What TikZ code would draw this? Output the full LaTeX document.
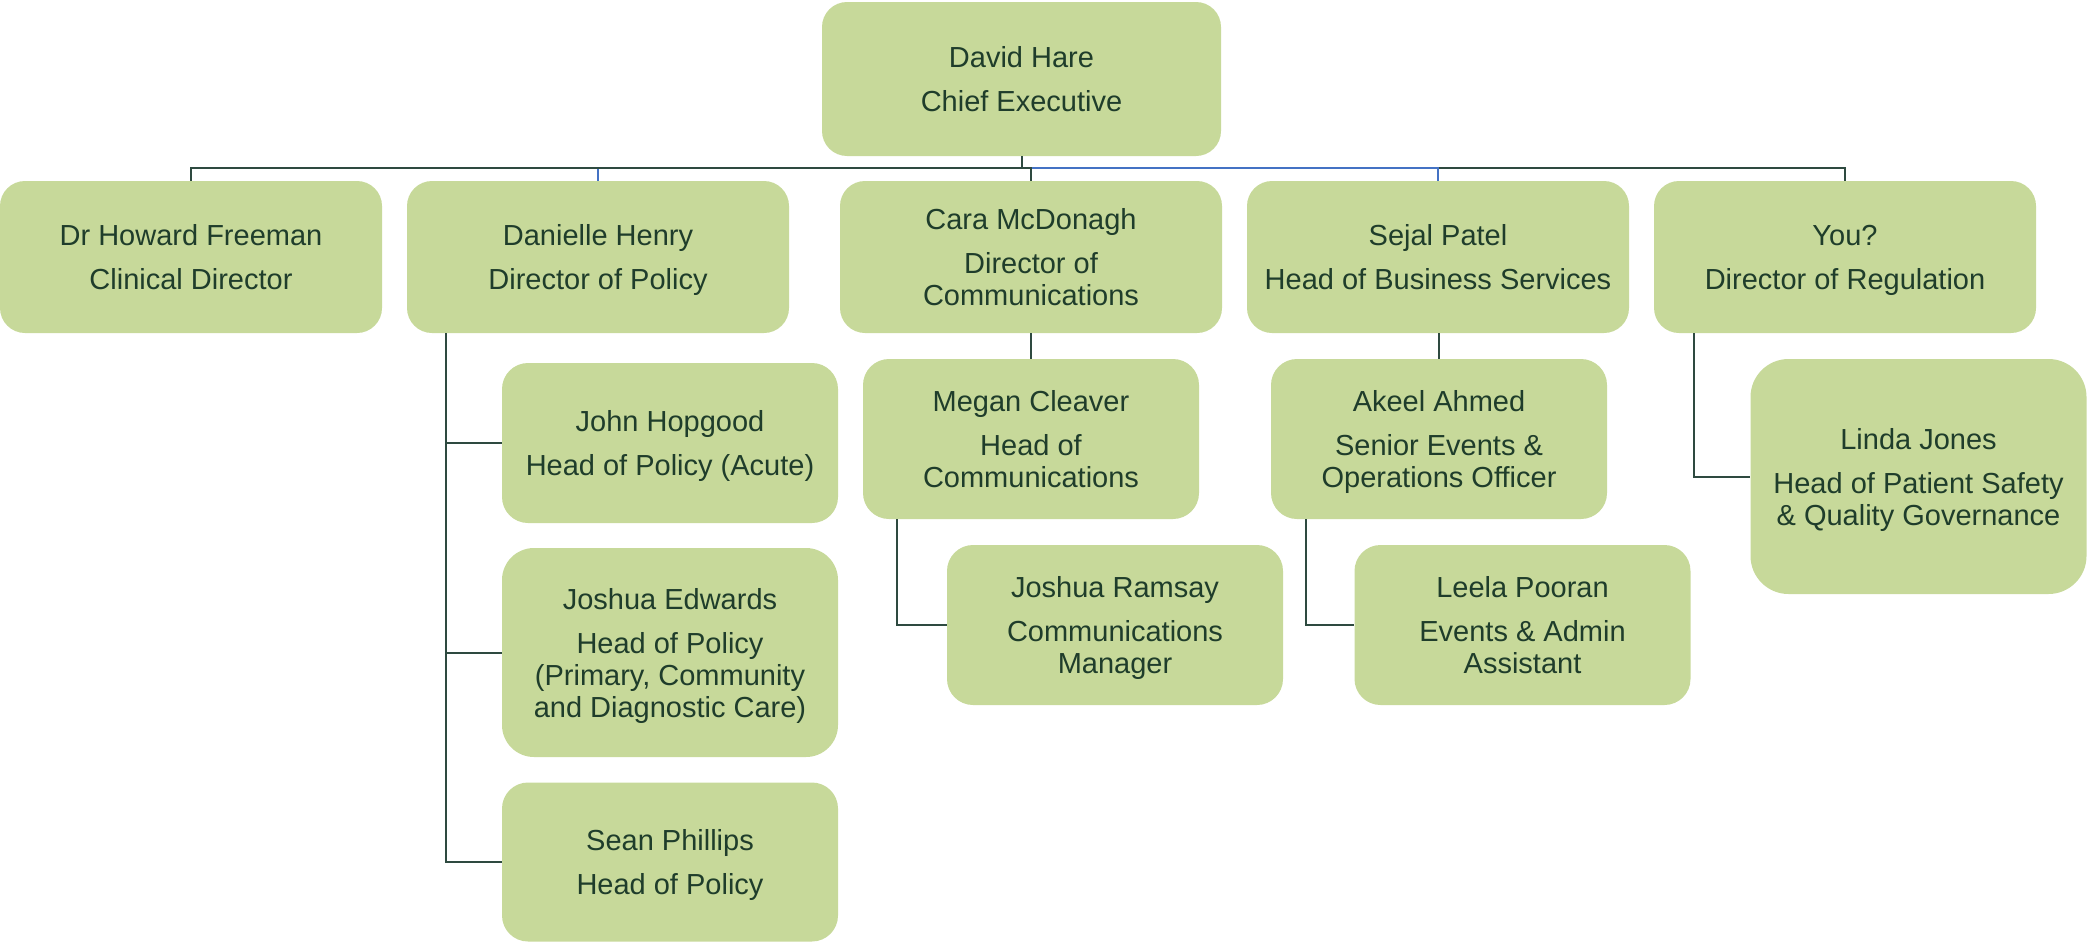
\documentclass[tikz,border=0pt]{standalone}
\usepackage{fontspec}
\setmainfont{Liberation Sans}
\usetikzlibrary{calc}
\definecolor{boxfill}{HTML}{C7D99A}
\definecolor{txt}{HTML}{1F3D2B}
\definecolor{lndark}{HTML}{2E4A40}
\definecolor{lnblue}{HTML}{4472C4}
\begin{document}
\begin{tikzpicture}[x=0.5pt,y=-0.5pt,
  box/.style={fill=boxfill, text=txt, draw=none, align=center, inner sep=0pt, text depth=0pt, font=\fontsize{14.5pt}{16pt}\selectfont},
  lone/.style={box, minimum width=191pt, minimum height=76pt, rounded corners=12.5pt},
  ltwo/.style={box, minimum width=168pt, minimum height=80pt, rounded corners=13pt},
  conn/.style={draw=lndark, line width=1pt},
  connb/.style={draw=lnblue, line width=1pt}]
\useasboundingbox (0,0) rectangle (2087,942);

\node[box, minimum width=199.5pt, minimum height=77pt, rounded corners=12.5pt] (ceo) at (1021.5,79) {David Hare\\[6pt]Chief Executive};

\node[lone] (howard) at (191,257) {Dr Howard Freeman\\[6pt]Clinical Director};
\node[lone] (danielle) at (598,257) {Danielle Henry\\[6pt]Director of Policy};
\node[lone] (cara) at (1031,257) {Cara McDonagh\\[6pt]Director of\\Communications};
\node[lone] (sejal) at (1438,257) {Sejal Patel\\[6pt]Head of Business Services};
\node[lone] (you) at (1845,257) {You?\\[6pt]Director of Regulation};

\node[ltwo] (john) at (670,443) {John Hopgood\\[6pt]Head of Policy (Acute)};
\node[ltwo, minimum height=104.5pt, rounded corners=16pt] (joshe) at (670,652.5) {Joshua Edwards\\[6pt]Head of Policy\\(Primary, Community\\and Diagnostic Care)};
\node[ltwo, minimum height=79.5pt] (sean) at (670,862) {Sean Phillips\\[6pt]Head of Policy};
\node[ltwo] (megan) at (1031,439) {Megan Cleaver\\[6pt]Head of\\Communications};
\node[ltwo] (joshr) at (1115,625) {Joshua Ramsay\\[6pt]Communications\\Manager};
\node[ltwo] (akeel) at (1439,439) {Akeel Ahmed\\[6pt]Senior Events \&\\Operations Officer};
\node[ltwo] (leela) at (1522.5,625) {Leela Pooran\\[6pt]Events \& Admin\\Assistant};
\node[ltwo, minimum height=117.5pt, rounded corners=19pt] (linda) at (1918.5,476.5) {Linda Jones\\[6pt]Head of Patient Safety\\\& Quality Governance};

\coordinate (bus) at ($(ceo.south)+(0,12)$);
\draw[conn] (ceo.south) -- (bus) -| (you.north);
\draw[connb] (bus) -| (danielle.north);
\draw[conn] (bus) -| (howard.north);
\draw[connb] (bus) -| (sejal.north);
\draw[conn] (bus) -| (cara.north);

\coordinate (dstem) at ($(danielle.south west)+(39,0)$);
\draw[conn] (dstem) |- (john.west);
\draw[conn] (dstem) |- (joshe.west);
\draw[conn] (dstem) |- (sean.west);

\draw[conn] (cara.south) -- (megan.north);
\coordinate (mstem) at ($(megan.south west)+(34,0)$);
\draw[conn] (mstem) |- (joshr.west);

\draw[conn] (akeel.north |- sejal.south) -- (akeel.north);
\coordinate (astem) at ($(akeel.south west)+(35,0)$);
\draw[conn] (astem) |- (leela.west);

\coordinate (ystem) at ($(you.south west)+(40,0)$);
\draw[conn] (ystem) |- (linda.west);
\end{tikzpicture}
\end{document}
